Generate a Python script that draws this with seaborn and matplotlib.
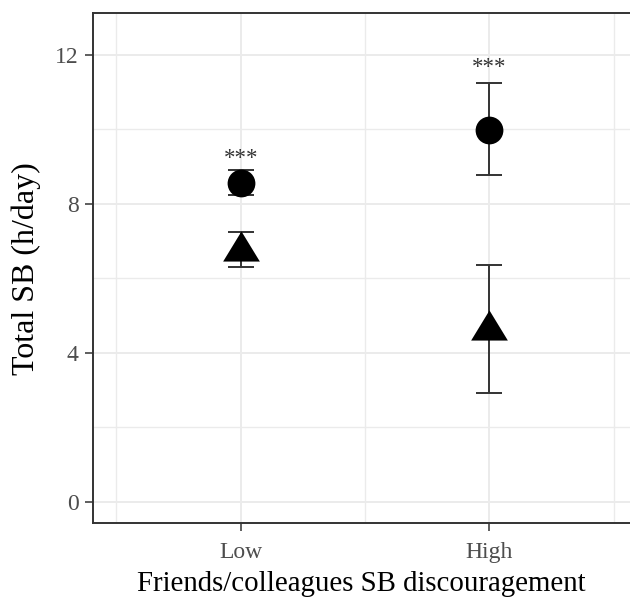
import matplotlib
matplotlib.use("Agg")
import matplotlib.pyplot as plt
from matplotlib.path import Path
import seaborn as sns
import pandas as pd
import numpy as np
from matplotlib.ticker import FixedLocator

categories = ["Low", "High"]
x_pos = [1, 2]

circle_mean = [8.55, 9.98]
circle_lo = [8.24, 8.77]
circle_hi = [8.90, 11.24]

tri_mean = [6.85, 4.74]
tri_lo = [6.29, 2.92]
tri_hi = [7.24, 6.34]

star_labels = ["***", "***"]
star_y = [9.22, 11.64]

y_ticks = [0, 4, 8, 12]

sns.set_theme(style="white")
plt.rcParams["font.family"] = ["Liberation Serif", "DejaVu Serif"]

fig = plt.figure(figsize=(6.3, 6.0), dpi=100)
ax = fig.add_axes([0.148, 0.128, 0.852, 0.850])

df = pd.DataFrame({
    "x": x_pos * 2,
    "y": circle_mean + tri_mean,
    "grp": ["circle"] * 2 + ["tri"] * 2,
})

tri_path = Path([(-1, -0.82), (1, -0.82), (0, 0.82), (-1, -0.82)],
                [Path.MOVETO, Path.LINETO, Path.LINETO, Path.CLOSEPOLY])

# error bars
ax.errorbar(x_pos, circle_mean,
            yerr=[np.array(circle_mean) - np.array(circle_lo), np.array(circle_hi) - np.array(circle_mean)],
            fmt="none", ecolor="#333333", elinewidth=1.4, capsize=9.4, capthick=1.4, zorder=3)
ax.errorbar(x_pos, tri_mean,
            yerr=[np.array(tri_mean) - np.array(tri_lo), np.array(tri_hi) - np.array(tri_mean)],
            fmt="none", ecolor="#333333", elinewidth=1.4, capsize=9.4, capthick=1.4, zorder=3)

sns.scatterplot(data=df[df.grp == "circle"], x="x", y="y", marker="o",
                color="black", s=400, linewidth=0, legend=False, ax=ax, zorder=4)
sns.scatterplot(data=df[df.grp == "tri"], x="x", y="y", marker=tri_path,
                color="black", s=700, linewidth=0, legend=False, ax=ax, zorder=4)

for xp, lab, sy in zip(x_pos, star_labels, star_y):
    ax.text(xp, sy, lab, ha="center", va="center", fontsize=16.5, color="#333333")

ax.set_xlim(0.407, 2.566)
ax.set_ylim(-0.58, 13.11)
ax.xaxis.set_major_locator(FixedLocator(x_pos))
ax.set_xticklabels(categories)
ax.xaxis.set_minor_locator(FixedLocator([0.5, 1.5, 2.5]))
ax.yaxis.set_major_locator(FixedLocator(y_ticks))
ax.yaxis.set_minor_locator(FixedLocator([2, 6, 10]))

ax.grid(True, which="major", color="#EBEBEB", linewidth=1.4)
ax.grid(True, which="minor", color="#EBEBEB", linewidth=1.0)
ax.set_axisbelow(True)

for side in ["left", "bottom", "top"]:
    ax.spines[side].set_color("#333333")
    ax.spines[side].set_linewidth(1.4)
ax.spines["right"].set_visible(False)

ax.tick_params(axis="both", which="major", length=5.5, width=1.1, color="#333333",
               labelsize=17, labelcolor="#4D4D4D", left=True, bottom=True)
ax.tick_params(axis="x", which="major", pad=8)
ax.tick_params(axis="y", which="major", pad=5)
ax.tick_params(axis="both", which="minor", length=0)

ax.set_xlabel("Friends/colleagues SB discouragement", fontsize=20.8, color="black", labelpad=6)
ax.set_ylabel("Total SB (h/day)", fontsize=23, color="black", labelpad=10)

fig.savefig("out.png", dpi=100)
